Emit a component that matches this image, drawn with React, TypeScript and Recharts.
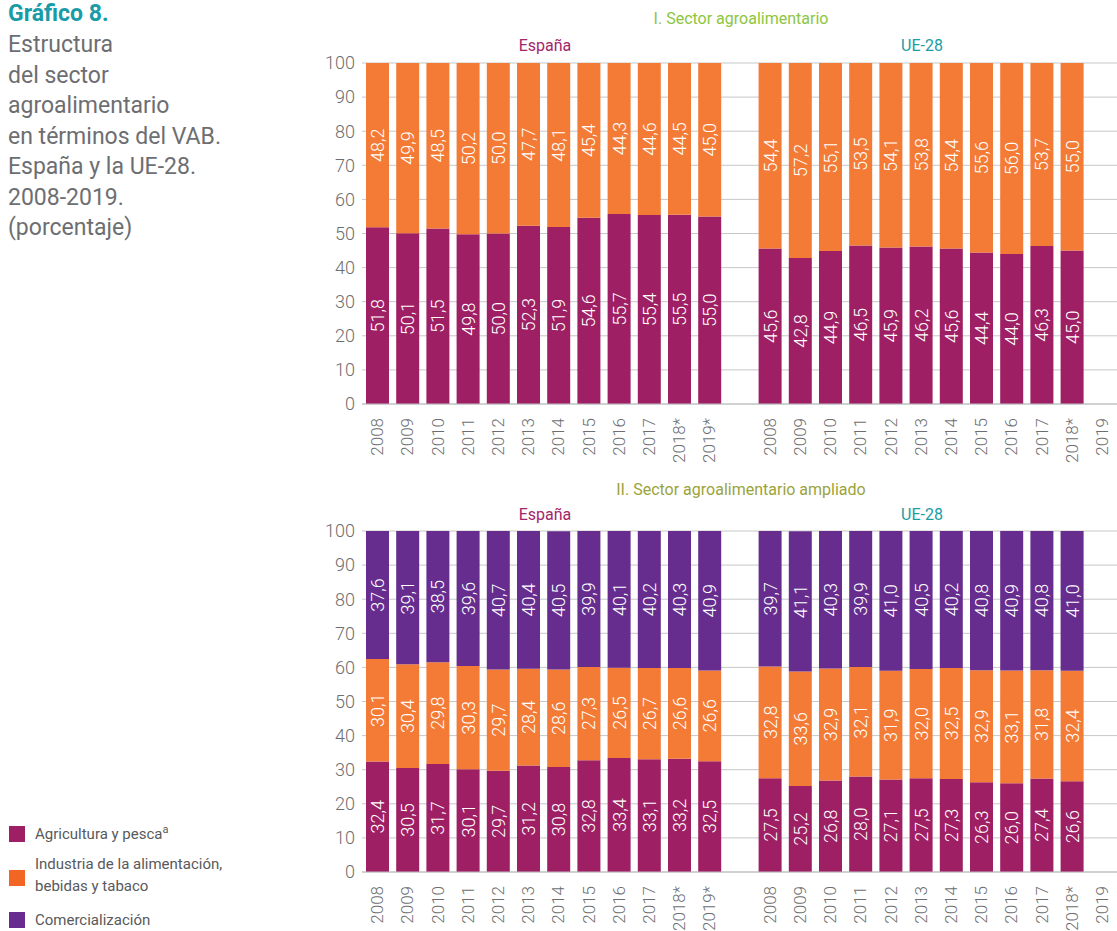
import React from "react";
import { BarChart, Bar, XAxis, YAxis, CartesianGrid, LabelList } from "recharts";

// years shown under each block of bars
const yearsEs = ["2008", "2009", "2010", "2011", "2012", "2013", "2014", "2015", "2016", "2017", "2018*", "2019*"];
const yearsUe = ["2008", "2009", "2010", "2011", "2012", "2013", "2014", "2015", "2016", "2017", "2018*", "2019"];
const yTicks = [0, 10, 20, 30, 40, 50, 60, 70, 80, 90, 100];

// I. Sector agroalimentario
const agriEsI = [51.8, 50.1, 51.5, 49.8, 50.0, 52.3, 51.9, 54.6, 55.7, 55.4, 55.5, 55.0];
const indEsI = [48.2, 49.9, 48.5, 50.2, 50.0, 47.7, 48.1, 45.4, 44.3, 44.6, 44.5, 45.0];
const agriUeI = [45.6, 42.8, 44.9, 46.5, 45.9, 46.2, 45.6, 44.4, 44.0, 46.3, 45.0, null];
const indUeI = [54.4, 57.2, 55.1, 53.5, 54.1, 53.8, 54.4, 55.6, 56.0, 53.7, 55.0, null];

// II. Sector agroalimentario ampliado
const agriEsII = [32.4, 30.5, 31.7, 30.1, 29.7, 31.2, 30.8, 32.8, 33.4, 33.1, 33.2, 32.5];
const indEsII = [30.1, 30.4, 29.8, 30.3, 29.7, 28.4, 28.6, 27.3, 26.5, 26.7, 26.6, 26.6];
const comEsII = [37.6, 39.1, 38.5, 39.6, 40.7, 40.4, 40.5, 39.9, 40.1, 40.2, 40.3, 40.9];
const agriUeII = [27.5, 25.2, 26.8, 28.0, 27.1, 27.5, 27.3, 26.3, 26.0, 27.4, 26.6, null];
const indUeII = [32.8, 33.6, 32.9, 32.1, 31.9, 32.0, 32.5, 32.9, 33.1, 31.8, 32.4, null];
const comUeII = [39.7, 41.1, 40.3, 39.9, 41.0, 40.5, 40.2, 40.8, 40.9, 40.8, 41.0, null];

const C_AGRI = "#9e1f63";
const C_IND = "#f37b35";
const C_COM = "#662d8f";
const GRAY = "#6d6e71";
const FONT = "Roboto, sans-serif";

type Row = { key: string; label: string; agri?: number | null; ind?: number | null; com?: number | null };

function buildRows(
  es: { agri: (number | null)[]; ind: (number | null)[]; com?: (number | null)[] },
  ue: { agri: (number | null)[]; ind: (number | null)[]; com?: (number | null)[] }
): Row[] {
  const rows: Row[] = [];
  yearsEs.forEach((y, i) =>
    rows.push({ key: "es" + i, label: y, agri: es.agri[i], ind: es.ind[i], com: es.com ? es.com[i] : null })
  );
  rows.push({ key: "gap", label: "" });
  yearsUe.forEach((y, i) =>
    rows.push({ key: "ue" + i, label: y, agri: ue.agri[i], ind: ue.ind[i], com: ue.com ? ue.com[i] : null })
  );
  return rows;
}

const rowsI = buildRows({ agri: agriEsI, ind: indEsI }, { agri: agriUeI, ind: indUeI });
const rowsII = buildRows(
  { agri: agriEsII, ind: indEsII, com: comEsII },
  { agri: agriUeII, ind: indUeII, com: comUeII }
);

const fmt = (v: number) => v.toFixed(1).replace(".", ",");

const SegLabel = (props: any) => {
  const { x, y, width, height, value } = props;
  if (value == null || !height) return null;
  const cx = x + width / 2;
  const cy = y + height / 2;
  return (
    <text
      x={cx}
      y={cy}
      transform={`rotate(-90 ${cx} ${cy})`}
      textAnchor="middle"
      dominantBaseline="central"
      fill="#ffffff"
      fontSize={18}
      fontWeight={300}
      fontFamily={FONT}
    >
      {fmt(value)}
    </text>
  );
};

function Panel({ rows, withCom }: { rows: Row[]; withCom: boolean }) {
  const labelOf: Record<string, string> = {};
  rows.forEach((r) => (labelOf[r.key] = r.label));
  const YearTick = (p: any) => {
    const { x, y, payload } = p;
    const cx = x;
    const cy = y + 6;
    return (
      <text
        x={cx}
        y={cy}
        transform={`rotate(-90 ${cx} ${cy})`}
        textAnchor="end"
        dominantBaseline="central"
        fill={GRAY}
        fontSize={17}
        fontWeight={300}
        fontFamily={FONT}
      >
        {labelOf[payload.value]}
      </text>
    );
  };
  return (
    <BarChart
      width={1117}
      height={470}
      data={rows}
      margin={{ top: 63, right: 0, left: 312, bottom: 0 }}
      barSize={23}
    >
      <CartesianGrid stroke="#c6c7c9" vertical={false} />
      <XAxis
        dataKey="key"
        interval={0}
        tick={<YearTick />}
        tickLine={false}
        axisLine={{ stroke: "#bcbec0" }}
        height={66}
      />
      <YAxis
        type="number"
        domain={[0, 100]}
        ticks={yTicks}
        allowDataOverflow
        width={50}
        axisLine={false}
        tickLine={false}
        tickSize={0}
        tickMargin={7}
        tick={{ fill: GRAY, fontSize: 18, fontWeight: 300, fontFamily: FONT }}
      />
      <Bar dataKey="agri" stackId="s" fill={C_AGRI} isAnimationActive={false}>
        <LabelList dataKey="agri" content={<SegLabel />} />
      </Bar>
      <Bar dataKey="ind" stackId="s" fill={C_IND} isAnimationActive={false}>
        <LabelList dataKey="ind" content={<SegLabel />} />
      </Bar>
      {withCom && (
        <Bar dataKey="com" stackId="s" fill={C_COM} isAnimationActive={false}>
          <LabelList dataKey="com" content={<SegLabel />} />
        </Bar>
      )}
    </BarChart>
  );
}

const centered = (x: number, y: number, color: string, size: number): React.CSSProperties => ({
  position: "absolute",
  left: x - 200,
  width: 400,
  top: y,
  textAlign: "center",
  color,
  fontSize: size,
  fontFamily: FONT,
  lineHeight: 1,
});

const swatch = (top: number, color: string): React.CSSProperties => ({
  position: "absolute",
  left: 9,
  top,
  width: 16,
  height: 16,
  background: color,
});

const legendText: React.CSSProperties = {
  position: "absolute",
  left: 35,
  fontSize: 15,
  color: "#58595b",
  fontFamily: FONT,
  lineHeight: "22px",
};

export default function App() {
  return (
    <div
      style={{
        position: "absolute",
        left: 0,
        top: 0,
        width: 1117,
        height: 931,
        background: "#fff",
        overflow: "hidden",
        fontFamily: FONT,
      }}
    >
      <div style={{ position: "absolute", left: 0, top: 468 }}>
        <Panel rows={rowsII} withCom={true} />
      </div>
      <div style={{ position: "absolute", left: 0, top: 0 }}>
        <Panel rows={rowsI} withCom={false} />
      </div>

      <div style={{ position: "absolute", left: 8, top: 1, color: "#1a9ba8", fontSize: 23, fontWeight: 700, lineHeight: "26px" }}>
        Gráfico 8.
      </div>
      <div style={{ position: "absolute", left: 8, top: 30, color: GRAY, fontSize: 23, fontWeight: 400, lineHeight: "30.5px" }}>
        Estructura
        <br />
        del sector
        <br />
        agroalimentario
        <br />
        en términos del VAB.
        <br />
        España y la UE-28.
        <br />
        2008-2019.
        <br />
        (porcentaje)
      </div>

      <div style={centered(741, 11, "#8dc63f", 16)}>I. Sector agroalimentario</div>
      <div style={centered(545, 38, "#a3266b", 16)}>España</div>
      <div style={centered(922, 38, "#1c9ca6", 16)}>UE-28</div>

      <div style={centered(741, 482, "#9ba33b", 16)}>II. Sector agroalimentario ampliado</div>
      <div style={centered(545, 507, "#a3266b", 16)}>España</div>
      <div style={centered(922, 507, "#1c9ca6", 16)}>UE-28</div>

      <div style={swatch(826, C_AGRI)} />
      <div style={{ ...legendText, top: 823 }}>
        Agricultura y pesca<sup style={{ fontSize: 11, lineHeight: 0 }}>a</sup>
      </div>
      <div style={swatch(870, "#f26522")} />
      <div style={{ ...legendText, top: 853 }}>
        Industria de la alimentación,
        <br />
        bebidas y tabaco
      </div>
      <div style={swatch(912, C_COM)} />
      <div style={{ ...legendText, top: 909 }}>Comercialización</div>
    </div>
  );
}
